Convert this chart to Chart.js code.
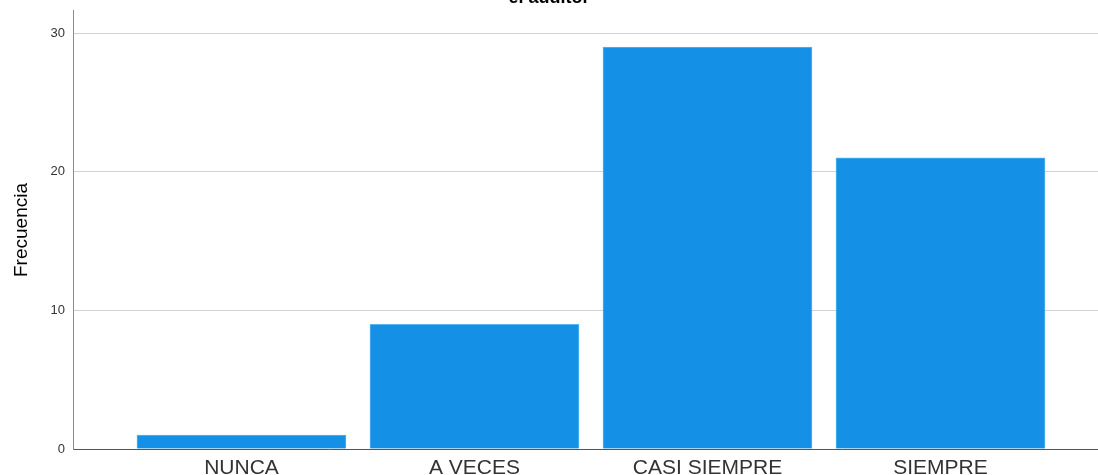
<!DOCTYPE html>
<html>
<head>
<meta charset="utf-8">
<script src="https://cdn.jsdelivr.net/npm/chart.js@4.4.0/dist/chart.umd.min.js"></script>
<style>
    html, body { margin: 0; padding: 0; background: #ffffff; overflow: hidden; }
    #wrap { position: absolute; left: 0; top: -13px; width: 1098px; height: 488px; }
</style>
</head>
<body>
<div id="wrap"><canvas id="mycanvas_bar"></canvas></div>
<script>
var categorias = ['NUNCA', 'A VECES', 'CASI SIEMPRE', 'SIEMPRE'];
var frecuencia = [1, 9, 29, 21];
var ticks_y = [0, 10, 20, 30];
var titulo = 'el auditor';

document.addEventListener('DOMContentLoaded', function () {
    var ctx_bar = document.getElementById('mycanvas_bar').getContext('2d');

    var puntos = [];
    for (var i = 0; i < categorias.length; i++) {
        puntos.push({x: i, y: frecuencia[i]});
    }

    var myChart_bar = new Chart(ctx_bar, {
        type: 'bar',
        data: {
            datasets: [{
                label: 'Frecuencia',
                data: puntos,
                backgroundColor: '#1491e6',
                borderColor: '#5ab4f0',
                borderWidth: 1,
                borderSkipped: 'bottom',
                barThickness: 209
            }]
        },
        options: {
            responsive: true,
            maintainAspectRatio: false,
            animation: false,
            layout: { padding: 0 },
            plugins: {
                legend: { display: false },
                tooltip: { enabled: false },
                title: {
                    display: true,
                    text: titulo,
                    color: '#000000',
                    font: { family: 'Liberation Sans', size: 18, weight: 'bold' },
                    padding: { top: 0, bottom: 2.4 }
                }
            },
            scales: {
                x: {
                    type: 'linear',
                    offset: false,
                    min: -0.723,
                    max: 3.676,
                    grid: { display: false, drawTicks: false, offset: false },
                    border: { display: true, color: '#555555', width: 1 },
                    afterBuildTicks: function (scale) {
                        scale.ticks = categorias.map(function (c, i) { return {value: i}; });
                    },
                    afterFit: function (scale) { scale.height = 26; },
                    ticks: {
                        padding: 7,
                        autoSkip: false,
                        maxRotation: 0,
                        color: '#333333',
                        font: { family: 'Liberation Sans', size: 21 },
                        callback: function (value) { return categorias[value]; }
                    }
                },
                y: {
                    min: 0,
                    max: 31.6,
                    grid: { color: '#d2d2d2', lineWidth: 1, drawTicks: false },
                    border: { display: true, color: '#8c8c8c', width: 1 },
                    afterBuildTicks: function (scale) {
                        scale.ticks = ticks_y.map(function (v) { return {value: v}; });
                    },
                    afterFit: function (scale) { scale.width = 73; },
                    ticks: {
                        padding: 8,
                        color: '#333333',
                        font: { family: 'Liberation Sans', size: 13 }
                    },
                    title: {
                        display: true,
                        text: 'Frecuencia',
                        color: '#000000',
                        font: { family: 'Liberation Sans', size: 19 },
                        padding: { top: 10, bottom: 0 }
                    }
                }
            }
        }
    });
}, false);
</script>
</body>
</html>
